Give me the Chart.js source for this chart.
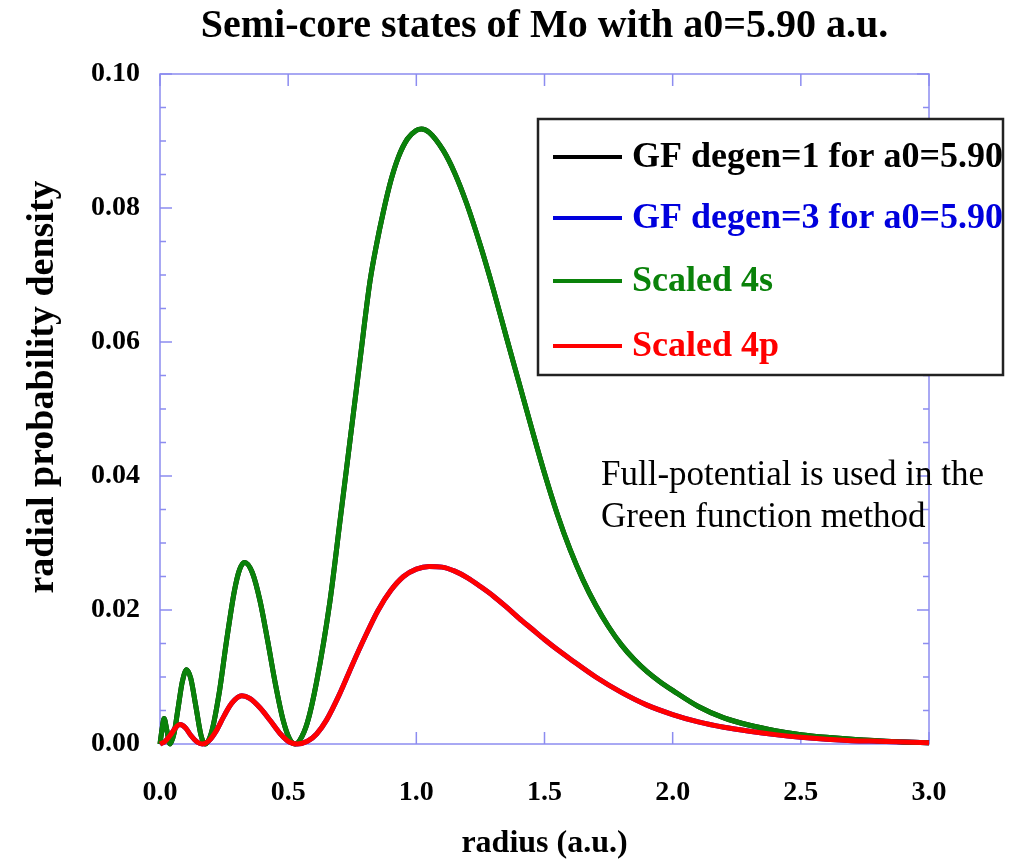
<!DOCTYPE html>
<html>
<head>
<meta charset="utf-8">
<script src="https://cdn.jsdelivr.net/npm/chart.js@4.4.1/dist/chart.umd.min.js"></script>
<style>
  body { margin: 0; background: #fff; }
  #wrap { width: 1025px; height: 860px; }
</style>
</head>
<body>
<div id="wrap"><canvas id="chart"></canvas></div>
<script>
// radius (a.u.) and radial probability density
const radius4s = [0, 0.008, 0.016, 0.026, 0.039, 0.055, 0.07, 0.087, 0.104, 0.12, 0.14, 0.16, 0.176,
  0.2, 0.23, 0.26, 0.29, 0.31, 0.33, 0.36, 0.39, 0.42, 0.45, 0.48, 0.505, 0.527, 0.546, 0.575, 0.611,
  0.663, 0.702, 0.741, 0.78, 0.819, 0.845, 0.87, 0.9, 0.93, 0.965, 1.0, 1.02, 1.05, 1.105, 1.15, 1.197, 1.25, 1.3, 1.35,
  1.4, 1.45, 1.5, 1.55, 1.6, 1.65, 1.7, 1.75, 1.8, 1.85, 1.9, 1.95, 2.0, 2.1, 2.2, 2.3, 2.4, 2.5,
  2.6, 2.7, 2.8, 2.9, 3.0];
const scaled4s = [0, 0.0022, 0.0038, 0.0022, 0, 0.0016, 0.0052, 0.0093, 0.0111, 0.0098, 0.0056, 0.0013, 0,
  0.0016, 0.0074, 0.0155, 0.0228, 0.026, 0.0271, 0.0256, 0.0214, 0.0154, 0.009, 0.0036, 0.0008, 0, 0.0006, 0.0032, 0.0093,
  0.0213, 0.0332, 0.0452, 0.0572, 0.069, 0.0746, 0.0792, 0.084, 0.0876, 0.0903, 0.0916, 0.0918, 0.0913, 0.0886, 0.0852, 0.0806, 0.0744, 0.0679, 0.0609,
  0.054, 0.0471, 0.0404, 0.0343, 0.029, 0.0245, 0.0207, 0.0175, 0.0148, 0.0126, 0.0108, 0.0093, 0.008, 0.0056, 0.0039, 0.0028, 0.002, 0.0014,
  0.001, 0.0007, 0.0005, 0.0003, 0.0002];

const radius4p = [0, 0.02, 0.04, 0.06, 0.078, 0.1, 0.12, 0.145, 0.165, 0.19, 0.22, 0.25, 0.28, 0.319, 0.35,
  0.39, 0.43, 0.47, 0.505, 0.535, 0.575, 0.611, 0.65, 0.7, 0.75, 0.8, 0.85, 0.9, 0.95, 1.0, 1.05, 1.1,
  1.15, 1.2, 1.25, 1.3, 1.35, 1.4, 1.45, 1.5, 1.55, 1.6, 1.7, 1.8, 1.9, 2.0, 2.1, 2.2, 2.3, 2.4, 2.5,
  2.6, 2.7, 2.8, 2.9, 3.0];
const scaled4p = [0, 0.0004, 0.0013, 0.0024, 0.0029, 0.0024, 0.0013, 0.0003, 0, 0.00045, 0.002, 0.0042, 0.0061, 0.0072, 0.0068,
  0.0054, 0.0035, 0.0015, 0.0003, 0, 0.0004, 0.0015, 0.0036, 0.0074, 0.0118, 0.016, 0.0199, 0.0229, 0.025, 0.0261, 0.0265, 0.0264,
  0.0258, 0.0248, 0.0235, 0.0221, 0.0205, 0.0188, 0.0172, 0.0156, 0.0141, 0.0127, 0.01, 0.0077, 0.0058, 0.0044, 0.0033, 0.0025, 0.0019, 0.0014, 0.001,
  0.0007, 0.0005, 0.0004, 0.0003, 0.0002];

// the GF curves lie right under the scaled ones, so they share the same readings
const gfDegen1 = scaled4s;
const gfDegen3 = scaled4p;

const xTickLabels = ['0.0', '0.5', '1.0', '1.5', '2.0', '2.5', '3.0'];
const yTickLabels = ['0.00', '0.02', '0.04', '0.06', '0.08', '0.10'];

const serif = '"Liberation Serif", "Times New Roman", serif';
const toPoints = (xs, ys) => xs.map((x, i) => ({ x: x, y: ys[i] }));

function line(label, xs, ys, color, order) {
  return {
    label: label,
    data: toPoints(xs, ys),
    borderColor: color,
    backgroundColor: color,
    borderWidth: 5,
    pointRadius: 0,
    cubicInterpolationMode: 'monotone',
    clip: false,
    order: order
  };
}

// frame + inward ticks
const frame = {
  id: 'frame',
  beforeDatasetsDraw(chart) {
    const { ctx, chartArea: a, scales: { x, y } } = chart;
    ctx.save();
    ctx.strokeStyle = '#8c8cf0';
    ctx.lineWidth = 1.5;
    ctx.strokeRect(a.left, a.top, a.right - a.left, a.bottom - a.top);
    ctx.beginPath();
    for (let i = 0; i <= 6; i++) {
      const px = x.getPixelForValue(i * 0.5);
      ctx.moveTo(px, a.bottom); ctx.lineTo(px, a.bottom - 12);
      ctx.moveTo(px, a.top); ctx.lineTo(px, a.top + 12);
    }
    for (let i = 0; i <= 20; i++) {
      const py = y.getPixelForValue(i * 0.005);
      const len = i % 4 === 0 ? 12 : 6;
      ctx.moveTo(a.left, py); ctx.lineTo(a.left + len, py);
      ctx.moveTo(a.right, py); ctx.lineTo(a.right - len, py);
    }
    ctx.stroke();

    // y axis title
    ctx.fillStyle = '#000';
    ctx.font = 'bold 38px ' + serif;
    ctx.textAlign = 'center';
    ctx.textBaseline = 'middle';
    ctx.translate(43, 387);
    ctx.rotate(-Math.PI / 2);
    ctx.fillText('radial probability density', 0, 0);
    ctx.restore();
  },
  afterDraw(chart) {
    const ctx = chart.ctx;
    ctx.save();
    // legend box
    ctx.fillStyle = '#fff';
    ctx.fillRect(538, 119, 465, 256);
    ctx.strokeStyle = '#222';
    ctx.lineWidth = 2.5;
    ctx.strokeRect(538, 119, 465, 256);
    const rows = [157, 218, 281, 346];
    ctx.font = 'bold 36px ' + serif;
    ctx.textAlign = 'left';
    ctx.textBaseline = 'middle';
    chart.data.datasets.forEach((ds, i) => {
      ctx.strokeStyle = ds.borderColor;
      ctx.lineWidth = 4;
      ctx.beginPath();
      ctx.moveTo(553, rows[i]); ctx.lineTo(622, rows[i]);
      ctx.stroke();
      ctx.fillStyle = ds.borderColor;
      ctx.fillText(ds.label, 632, rows[i] + 1);
    });
    // note
    ctx.fillStyle = '#000';
    ctx.font = '35px ' + serif;
    ctx.fillText('Full-potential is used in the', 601, 476);
    ctx.fillText('Green function method', 601, 518);
    ctx.restore();
  }
};

const ctx = document.getElementById('chart').getContext('2d');
new Chart(ctx, {
  type: 'line',
  data: {
    datasets: [
      line('GF degen=1 for a0=5.90', radius4s, gfDegen1, '#000000', 3),
      line('GF degen=3 for a0=5.90', radius4p, gfDegen3, '#0000dd', 2),
      line('Scaled 4s', radius4s, scaled4s, '#0a820a', 1),
      line('Scaled 4p', radius4p, scaled4p, '#ff0000', 0)
    ]
  },
  options: {
    responsive: true,
    maintainAspectRatio: false,
    animation: false,
    layout: { padding: { left: 0, right: 96, top: 0, bottom: 0 } },
    plugins: {
      legend: { display: false },
      tooltip: { enabled: false },
      title: {
        display: true,
        fullSize: false,
        text: 'Semi-core states of Mo with a0=5.90 a.u.',
        color: '#000',
        font: { family: serif, size: 40, weight: 'bold' },
        padding: { top: 3, bottom: 23 }
      }
    },
    scales: {
      x: {
        type: 'linear',
        min: 0,
        max: 3,
        grid: { display: false, drawTicks: false },
        border: { display: false },
        ticks: {
          stepSize: 0.5,
          padding: 32,
          color: '#000',
          font: { family: serif, size: 28, weight: 'bold' },
          callback: (v) => xTickLabels[Math.round(v / 0.5)]
        },
        title: {
          display: true,
          text: 'radius (a.u.)',
          color: '#000',
          font: { family: serif, size: 32, weight: 'bold', lineHeight: 1.0 },
          padding: { top: 0, bottom: 0 }
        },
        afterFit: (scale) => { scale.height = 116; }
      },
      y: {
        min: 0,
        max: 0.1,
        grid: { display: false, drawTicks: false },
        border: { display: false },
        ticks: {
          stepSize: 0.02,
          padding: 20,
          color: '#000',
          font: { family: serif, size: 28, weight: 'bold' },
          callback: (v) => yTickLabels[Math.round(v / 0.02)]
        },
        afterFit: (scale) => { scale.width = 160; }
      }
    }
  },
  plugins: [frame]
});
</script>
</body>
</html>
